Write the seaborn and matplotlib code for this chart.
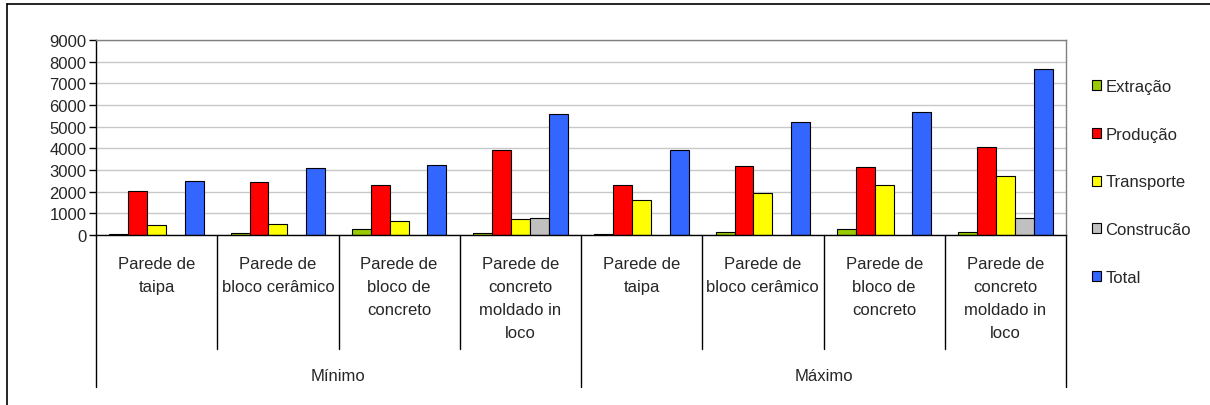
import matplotlib
matplotlib.use("Agg")
import matplotlib.pyplot as plt
import matplotlib.transforms as mtransforms
from matplotlib.patches import Patch
from matplotlib.lines import Line2D
import seaborn as sns
import pandas as pd
import numpy as np

# ---- data ----
groups = ["Mínimo", "Máximo"]
walls = ["Parede de\ntaipa", "Parede de\nbloco cerâmico", "Parede de\nbloco de\nconcreto",
         "Parede de\nconcreto\nmoldado in\nloco"]
components = ["Extração", "Produção", "Transporte", "Construcão", "Total"]

extracao   = [30, 110, 280, 110, 40, 120, 290, 120]
producao   = [2040, 2440, 2330, 3910, 2290, 3190, 3130, 4040]
transporte = [445, 505, 645, 735, 1595, 1950, 2290, 2735]
construcao = [np.nan, np.nan, np.nan, 800, np.nan, np.nan, np.nan, 800]
total      = [2490, 3070, 3240, 5575, 3930, 5235, 5685, 7680]

colors = ["#99CC00", "#FF0000", "#FFFF00", "#C0C0C0", "#3366FF"]

series = [extracao, producao, transporte, construcao, total]
keys = [f"{g}|{w}" for g in groups for w in walls]
rows = []
for comp, vals in zip(components, series):
    for k, v in zip(keys, vals):
        rows.append({"key": k, "Componente": comp, "valor": v})
df = pd.DataFrame(rows)

# ---- figure ----
sns.set_style("white")
plt.rcParams["font.family"] = ["Liberation Sans", "DejaVu Sans"]
fs = 12

W, H = 1210, 406
fig = plt.figure(figsize=(W / 100, H / 100), dpi=100)
ax = fig.add_axes([96 / W, 1 - 236 / H, (1066 - 96) / W, (236 - 41) / H])

sns.barplot(data=df, x="key", y="valor", hue="Componente", order=keys,
            hue_order=components, palette=colors, width=0.78,
            edgecolor="black", linewidth=0.8, errorbar=None, ax=ax,
            legend=False, saturation=1)

ax.set_ylim(0, 9000)
ax.set_xlim(-0.5, len(keys) - 0.5)
ax.set_yticks(range(0, 9001, 1000))
ax.tick_params(axis="y", labelsize=fs, length=5, width=1, color="black", pad=2,
               left=True, direction="out")
ax.set_xticks([])
ax.set_xlabel("")
ax.set_ylabel("")
ax.yaxis.grid(True, color="#C8C8C8", linewidth=1)
ax.set_axisbelow(True)
for s in ["top", "right"]:
    ax.spines[s].set_color("#808080")
    ax.spines[s].set_linewidth(1)
for s in ["left", "bottom"]:
    ax.spines[s].set_color("black")
    ax.spines[s].set_linewidth(1)

# ---- multi-level x axis ----
trans = mtransforms.blended_transform_factory(ax.transData, ax.transAxes)
ph = 236 - 41
y_cat_line = -(350 - 236) / ph
y_grp_line = -(388 - 236) / ph
for i in range(len(keys) + 1):
    x = i - 0.5
    yend = y_grp_line if i % 4 == 0 else y_cat_line
    ax.add_line(Line2D([x, x], [0, yend], transform=trans, color="black",
                       linewidth=1, clip_on=False))
for i, k in enumerate(keys):
    ax.text(i, -(257 - 236) / ph, walls[i % 4], transform=trans, ha="center",
            va="top", fontsize=fs, linespacing=1.68)
for j, g in enumerate(groups):
    ax.text(j * 4 + 1.5, -(377 - 236) / ph, g, transform=trans, ha="center",
            va="center", fontsize=fs)

# ---- legend ----
handles = [Patch(facecolor=c, edgecolor="black", linewidth=0.8) for c in colors]
fig.legend(handles, components, loc="center left",
           bbox_to_anchor=(1092 / W, 1 - 183 / H), bbox_transform=fig.transFigure,
           frameon=False, fontsize=fs, handlelength=0.55, handleheight=0.55,
           handletextpad=0.25, labelspacing=1.96, borderpad=0, borderaxespad=0)

# ---- outer chart frame ----
fig.add_artist(Line2D([7 / W, 7 / W], [0, 1 - 5 / H], transform=fig.transFigure,
                      color="black", linewidth=1.2))
fig.add_artist(Line2D([7 / W, 1], [1 - 5 / H, 1 - 5 / H], transform=fig.transFigure,
                      color="black", linewidth=1.2))

fig.savefig("out.png", dpi=100)
